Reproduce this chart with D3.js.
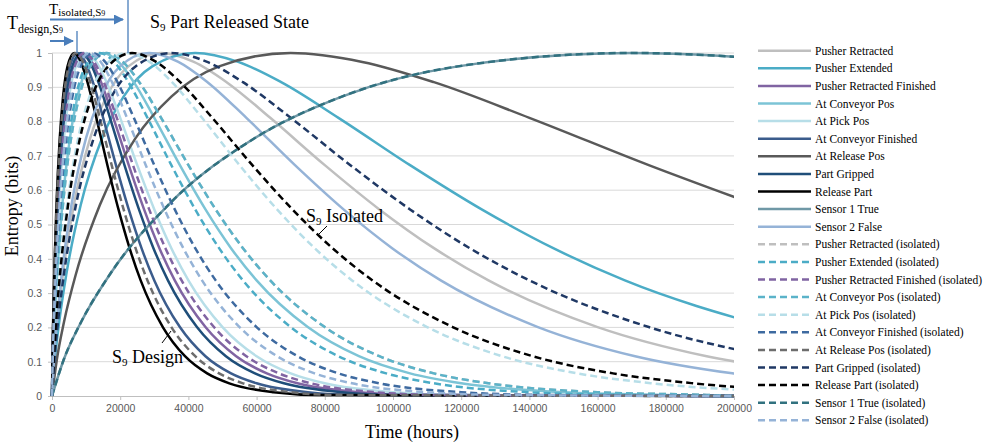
<!DOCTYPE html>
<html><head><meta charset="utf-8">
<script src="https://cdn.jsdelivr.net/npm/d3@7"></script>
<style>body{margin:0;background:#fff} svg{display:block}</style>
</head><body><svg id="c" width="999" height="446"></svg>
<script>
// ---------- DATA ----------
const seriesNames = [
  "Pusher Retracted","Pusher Extended","Pusher Retracted Finished","At Conveyor Pos","At Pick Pos",
  "At Conveyor Finished","At Release Pos","Part Gripped","Release Part","Sensor 1 True","Sensor 2 False",
  "Pusher Retracted (isolated)","Pusher Extended (isolated)","Pusher Retracted Finished (isolated)",
  "At Conveyor Pos (isolated)","At Pick Pos (isolated)","At Conveyor Finished (isolated)",
  "At Release Pos (isolated)","Part Gripped (isolated)","Release Part (isolated)",
  "Sensor 1 True (isolated)","Sensor 2 False (isolated)"
];
// entropy (bits) reached at the hours listed for each series, point by point
const entropyLevels = [0,0.105,0.215,0.355,0.556,0.752,0.873,0.961,1,0.974,0.915,0.811,0.673,0.544,0.431,0.337,0.201,0.116,0.066,0.037,0.011,0.003,0];

const pusherRetracted        = [0,640,1600,3200,6400,11200,16000,22400,32000,41600,51200,64000,80000,96000,112000,128000,160000,192000,224000];
const pusherExtended         = [0,840,2100,4200,8400,14700,21000,29400,42000,54600,67200,84000,105000,126000,147000,168000,210000];
const pusherRetractedFin     = [0,180,450,900,1800,3150,4500,6300,9000,11700,14400,18000,22500,27000,31500,36000,45000,54000,63000,72000,90000,108000,200000];
const atConveyorPos          = [0,300,750,1500,3000,5250,7500,10500,15000,19500,24000,30000,37500,45000,52500,60000,75000,90000,105000,120000,150000,180000,200000];
const atPickPos              = [0,200,500,1000,2000,3500,5000,7000,10000,13000,16000,20000,25000,30000,35000,40000,50000,60000,70000,80000,100000,120000,200000];
const atConveyorFinished     = [0,150,375,750,1500,2625,3750,5250,7500,9750,12000,15000,18750,22500,26250,30000,37500,45000,52500,60000,75000,90000,200000];
const atReleasePos           = [0,1400,3500,7000,14000,24500,35000,49000,70000,91000,112000,140000,175000,210000];
const partGripped            = [0,170,425,850,1700,2975,4250,5950,8500,11050,13600,17000,21250,25500,29750,34000,42500,51000,59500,68000,85000,102000,200000];
const releasePart            = [0,130,325,650,1300,2275,3250,4550,6500,8450,10400,13000,16250,19500,22750,26000,32500,39000,45500,52000,65000,78000,200000];
const sensor1True            = [0,3400,8500,17000,34000,59500,85000,119000,170000,221000];
const sensor2False           = [0,570,1425,2850,5700,9975,14250,19950,28500,37050,45600,57000,71250,85500,99750,114000,142500,171000,199500,228000];
const pusherRetractedIso     = [0,320,800,1600,3200,5600,8000,11200,16000,20800,25600,32000,40000,48000,56000,64000,80000,96000,112000,128000,160000,192000,200000];
const pusherExtendedIso      = [0,280,700,1400,2800,4900,7000,9800,14000,18200,22400,28000,35000,42000,49000,56000,70000,84000,98000,112000,140000,168000,200000];
const pusherRetractedFinIso  = [0,190,475,950,1900,3325,4750,6650,9500,12350,15200,19000,23750,28500,33250,38000,47500,57000,66500,76000,95000,114000,200000];
const atConveyorPosIso       = [0,320,800,1600,3200,5600,8000,11200,16000,20800,25600,32000,40000,48000,56000,64000,80000,96000,112000,128000,160000,192000,200000];
const atPickPosIso           = [0,440,1100,2200,4400,7700,11000,15400,22000,28600,35200,44000,55000,66000,77000,88000,110000,132000,154000,176000,220000];
const atConveyorFinishedIso  = [0,240,600,1200,2400,4200,6000,8400,12000,15600,19200,24000,30000,36000,42000,48000,60000,72000,84000,96000,120000,144000,200000];
const atReleasePosIso        = [0,140,350,700,1400,2450,3500,4900,7000,9100,11200,14000,17500,21000,24500,28000,35000,42000,49000,56000,70000,84000,200000];
const partGrippedIso         = [0,700,1750,3500,7000,12250,17500,24500,35000,45500,56000,70000,87500,105000,122500,140000,175000,210000];
const releasePartIso         = [0,470,1175,2350,4700,8225,11750,16450,23500,30550,37600,47000,58750,70500,82250,94000,117500,141000,164500,188000,235000];
const sensor1TrueIso         = [0,3400,8500,17000,34000,59500,85000,119000,170000,221000];
const sensor2FalseIso        = [0,220,550,1100,2200,3850,5500,7700,11000,14300,17600,22000,27500,33000,38500,44000,55000,66000,77000,88000,110000,132000,200000];

const seriesHours = [pusherRetracted,pusherExtended,pusherRetractedFin,atConveyorPos,atPickPos,atConveyorFinished,
  atReleasePos,partGripped,releasePart,sensor1True,sensor2False,pusherRetractedIso,pusherExtendedIso,
  pusherRetractedFinIso,atConveyorPosIso,atPickPosIso,atConveyorFinishedIso,atReleasePosIso,partGrippedIso,
  releasePartIso,sensor1TrueIso,sensor2FalseIso];

const xTicks = [0,20000,40000,60000,80000,100000,120000,140000,160000,180000,200000];
const yTicks = [0,0.1,0.2,0.3,0.4,0.5,0.6,0.7,0.8,0.9,1];

// ---------- STYLE ----------
const colors = ["#bfbfbf","#4bacc6","#8064a2","#7cc4d6","#b7dee8","#3b5c8c","#595959","#1f4e79","#000000","#6f98a6","#95b3d7",
                "#bfbfbf","#4bacc6","#8064a2","#5bb3c9","#b7dee8","#3e6aa0","#6d6d6d","#1f3864","#000000","#31717f","#95b3d7"];
const isDashed = (i) => i >= 11;

const svg = d3.select("#c");
const x = d3.scaleLinear().domain([0,200000]).range([52,734]);
const y = d3.scaleLinear().domain([0,1]).range([396,53]);

// grid
svg.append("g").selectAll("line").data(yTicks.filter(d=>d>0)).join("line")
  .attr("x1",x(0)).attr("x2",x(200000)).attr("y1",d=>y(d)).attr("y2",d=>y(d))
  .attr("stroke","#d9d9d9").attr("stroke-width",1);

// axes
const axisColor = "#bfbfbf";
const xAxis = svg.append("g").attr("transform",`translate(0,${y(0)})`)
  .call(d3.axisBottom(x).tickValues(xTicks).tickFormat(d3.format("d")).tickSize(4).tickPadding(5));
const yAxis = svg.append("g").attr("transform",`translate(${x(0)},0)`)
  .call(d3.axisLeft(y).tickValues(yTicks).tickFormat(d=>String(+d.toFixed(1))).tickSize(4).tickPadding(6));
[xAxis,yAxis].forEach(g=>{
  g.select(".domain").attr("stroke",axisColor);
  g.selectAll(".tick line").attr("stroke",axisColor);
  g.selectAll(".tick text").attr("fill","#595959").style("font-family","'Liberation Sans',Arial,sans-serif").style("font-size","10.5px");
});

// clip
svg.append("clipPath").attr("id","plotclip").append("rect")
  .attr("x",x(0)-2).attr("y",40).attr("width",x(200000)-x(0)+2).attr("height",360);

const line = d3.line().x(d=>x(d[0])).y(d=>y(d[1])).curve(d3.curveMonotoneX);
const plot = svg.append("g").attr("clip-path","url(#plotclip)");
seriesHours.forEach((hrs,i)=>{
  const pts = hrs.map((h,k)=>[h,entropyLevels[k]]);
  plot.append("path").attr("d",line(pts)).attr("fill","none")
    .attr("stroke",colors[i]).attr("stroke-width",2.5)
    .attr("stroke-dasharray",isDashed(i)?"7,4":null);
});

// legend
const lg = svg.append("g");
seriesNames.forEach((n,i)=>{
  const yy = 50.7 + i*17.6;
  lg.append("line").attr("x1",758).attr("x2",811).attr("y1",yy).attr("y2",yy)
    .attr("stroke",colors[i]).attr("stroke-width",2.5).attr("stroke-dasharray",isDashed(i)?"7,4":null);
  lg.append("text").attr("x",815).attr("y",yy).attr("dy","0.35em").text(n)
    .style("font-family","'Liberation Serif','Times New Roman',serif").style("font-size","11.5px").attr("fill","#000");
});

const serif = "'Liberation Serif','Times New Roman',serif";
// axis titles
svg.append("text").attr("x",412).attr("y",438).attr("text-anchor","middle").text("Time (hours)")
  .style("font-family",serif).style("font-size","18px");
svg.append("text").attr("transform","translate(18,206) rotate(-90)").attr("text-anchor","middle").text("Entropy (bits)")
  .style("font-family",serif).style("font-size","18px");

// subscript helper
function subText(xp, yp, main, sub, rest, size, subSize){
  const t = svg.append("text").attr("x",xp).attr("y",yp).style("font-family",serif).style("font-size",size+"px");
  t.append("tspan").text(main);
  t.append("tspan").text(sub).style("font-size",subSize+"px").attr("dy",size*0.15);
  if(rest) t.append("tspan").text(rest).attr("dy",-size*0.15);
  return t;
}
subText(150,28,"S","9"," Part Released State",18,11);
subText(306,222,"S","9"," Isolated",18,11);
subText(112,363,"S","9"," Design",18,11);

// T design
const td = svg.append("text").attr("x",7).attr("y",29).style("font-family",serif).style("font-size","18px");
td.append("tspan").text("T");
td.append("tspan").text("design,S").style("font-size","12px").attr("dy",4);
td.append("tspan").text("9").style("font-size","8px").attr("dy",0);
// T isolated
const ti = svg.append("text").attr("x",49).attr("y",14).style("font-family",serif).style("font-size","15px");
ti.append("tspan").text("T");
ti.append("tspan").text("isolated,S").style("font-size","11px").attr("dy",1.5);
ti.append("tspan").text("9").style("font-size","8px").attr("dy",0);

// arrows
const blue = "#4a7ebb";
const defs = svg.append("defs");
defs.append("marker").attr("id","ah").attr("viewBox","0 0 10 10").attr("refX",9).attr("refY",5)
  .attr("markerWidth",5).attr("markerHeight",5).attr("orient","auto")
  .append("path").attr("d","M0,0 L10,5 L0,10 Z").attr("fill",blue);
svg.append("line").attr("x1",50).attr("x2",123).attr("y1",19.5).attr("y2",19.5).attr("stroke",blue).attr("stroke-width",2).attr("marker-end","url(#ah)");
svg.append("line").attr("x1",50).attr("x2",73).attr("y1",41).attr("y2",41).attr("stroke",blue).attr("stroke-width",2).attr("marker-end","url(#ah)");
svg.append("line").attr("x1",128).attr("x2",128).attr("y1",0).attr("y2",53).attr("stroke",blue).attr("stroke-width",1.3);
svg.append("line").attr("x1",77).attr("x2",77).attr("y1",31).attr("y2",53).attr("stroke",blue).attr("stroke-width",1.3);

// leader lines
svg.append("line").attr("x1",318).attr("y1",235).attr("x2",327).attr("y2",226).attr("stroke","#000").attr("stroke-width",1);
svg.append("line").attr("x1",162).attr("y1",343).attr("x2",171).attr("y2",331).attr("stroke","#000").attr("stroke-width",1);
</script></body></html>
